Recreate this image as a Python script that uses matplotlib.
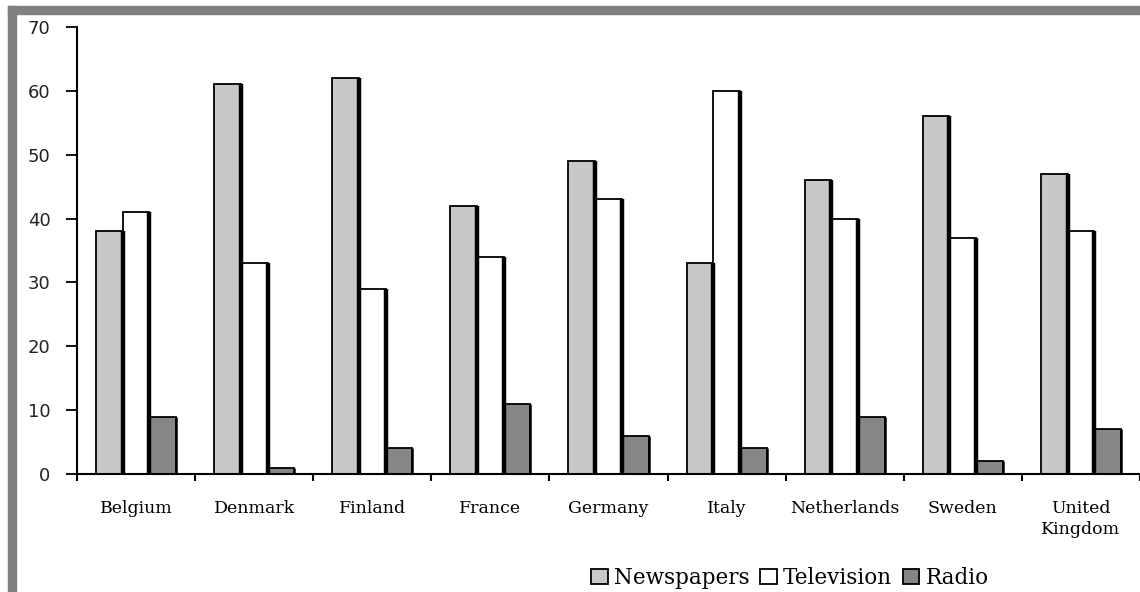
import numpy as np
import matplotlib
matplotlib.use('Agg')
from matplotlib import pyplot as plt
from matplotlib.patches import Rectangle

countries = ['Belgium', 'Denmark', 'Finland', 'France', 'Germany', 'Italy',
             'Netherlands', 'Sweden', 'United\nKingdom']
newspapers = [38, 61, 62, 42, 49, 33, 46, 56, 47]
television = [41, 33, 29, 34, 43, 60, 40, 37, 38]
radio = [9, 1, 4, 11, 6, 4, 9, 2, 7]
yticks = [0, 10, 20, 30, 40, 50, 60, 70]

fig = plt.figure(figsize=(11.4, 5.92), dpi=100)
ax = fig.add_axes([77/1140, 118/592, 1 - 77/1140, (474-27)/592])

# grey frame on top and left
fig.patches.append(Rectangle((8/1140, 0), 8/1140, 1 - 6/592, transform=fig.transFigure,
                             color='#808080', zorder=0))
fig.patches.append(Rectangle((8/1140, 1 - 14/592), 1, 8/592, transform=fig.transFigure,
                             color='#808080', zorder=0))

x = np.arange(len(countries))
w = 0.226
series = [(newspapers, '#c8c8c8', 'Newspapers'),
          (television, 'white', 'Television'),
          (radio, '#868686', 'Radio')]
for i, (vals, col, name) in enumerate(series):
    pos = x + (i - 1) * w
    ax.bar(pos, vals, width=w, color=col, edgecolor='black', linewidth=1.3, label=name, zorder=2)
    # heavy right edge of each bar
    ax.vlines(pos + w / 2, 0, vals, color='black', linewidth=3.2 if i < 2 else 1.8, zorder=3)

ax.set_xlim(-0.5, len(countries) - 0.5)
ax.set_ylim(0, 70)
ax.set_yticks(yticks)
ax.set_yticklabels([str(t) for t in yticks], fontsize=13, family='DejaVu Sans', color='#222222')
ax.tick_params(axis='y', length=8, width=1.3, pad=11)

ax.set_xticks(x)
ax.set_xticklabels(countries, fontsize=12.5, family='DejaVu Serif', linespacing=1.25)
ax.tick_params(axis='x', length=0, pad=19)
ax.set_xticks(np.arange(len(countries) + 1) - 0.5, minor=True)
ax.tick_params(axis='x', which='minor', length=5, width=1.5, direction='out')

for s in ['top', 'right']:
    ax.spines[s].set_visible(False)
ax.spines['left'].set_linewidth(1.5)
ax.spines['bottom'].set_linewidth(1.5)
ax.patch.set_alpha(0)

fig.legend(loc='center', bbox_to_anchor=(790/1140, 1 - 578/592), ncol=3, frameon=False,
           prop={'family': 'DejaVu Serif', 'size': 15.5}, handlelength=0.75, handleheight=0.75,
           handletextpad=0.3, columnspacing=0.5, borderpad=0)

fig.savefig('out.png', dpi=100)
